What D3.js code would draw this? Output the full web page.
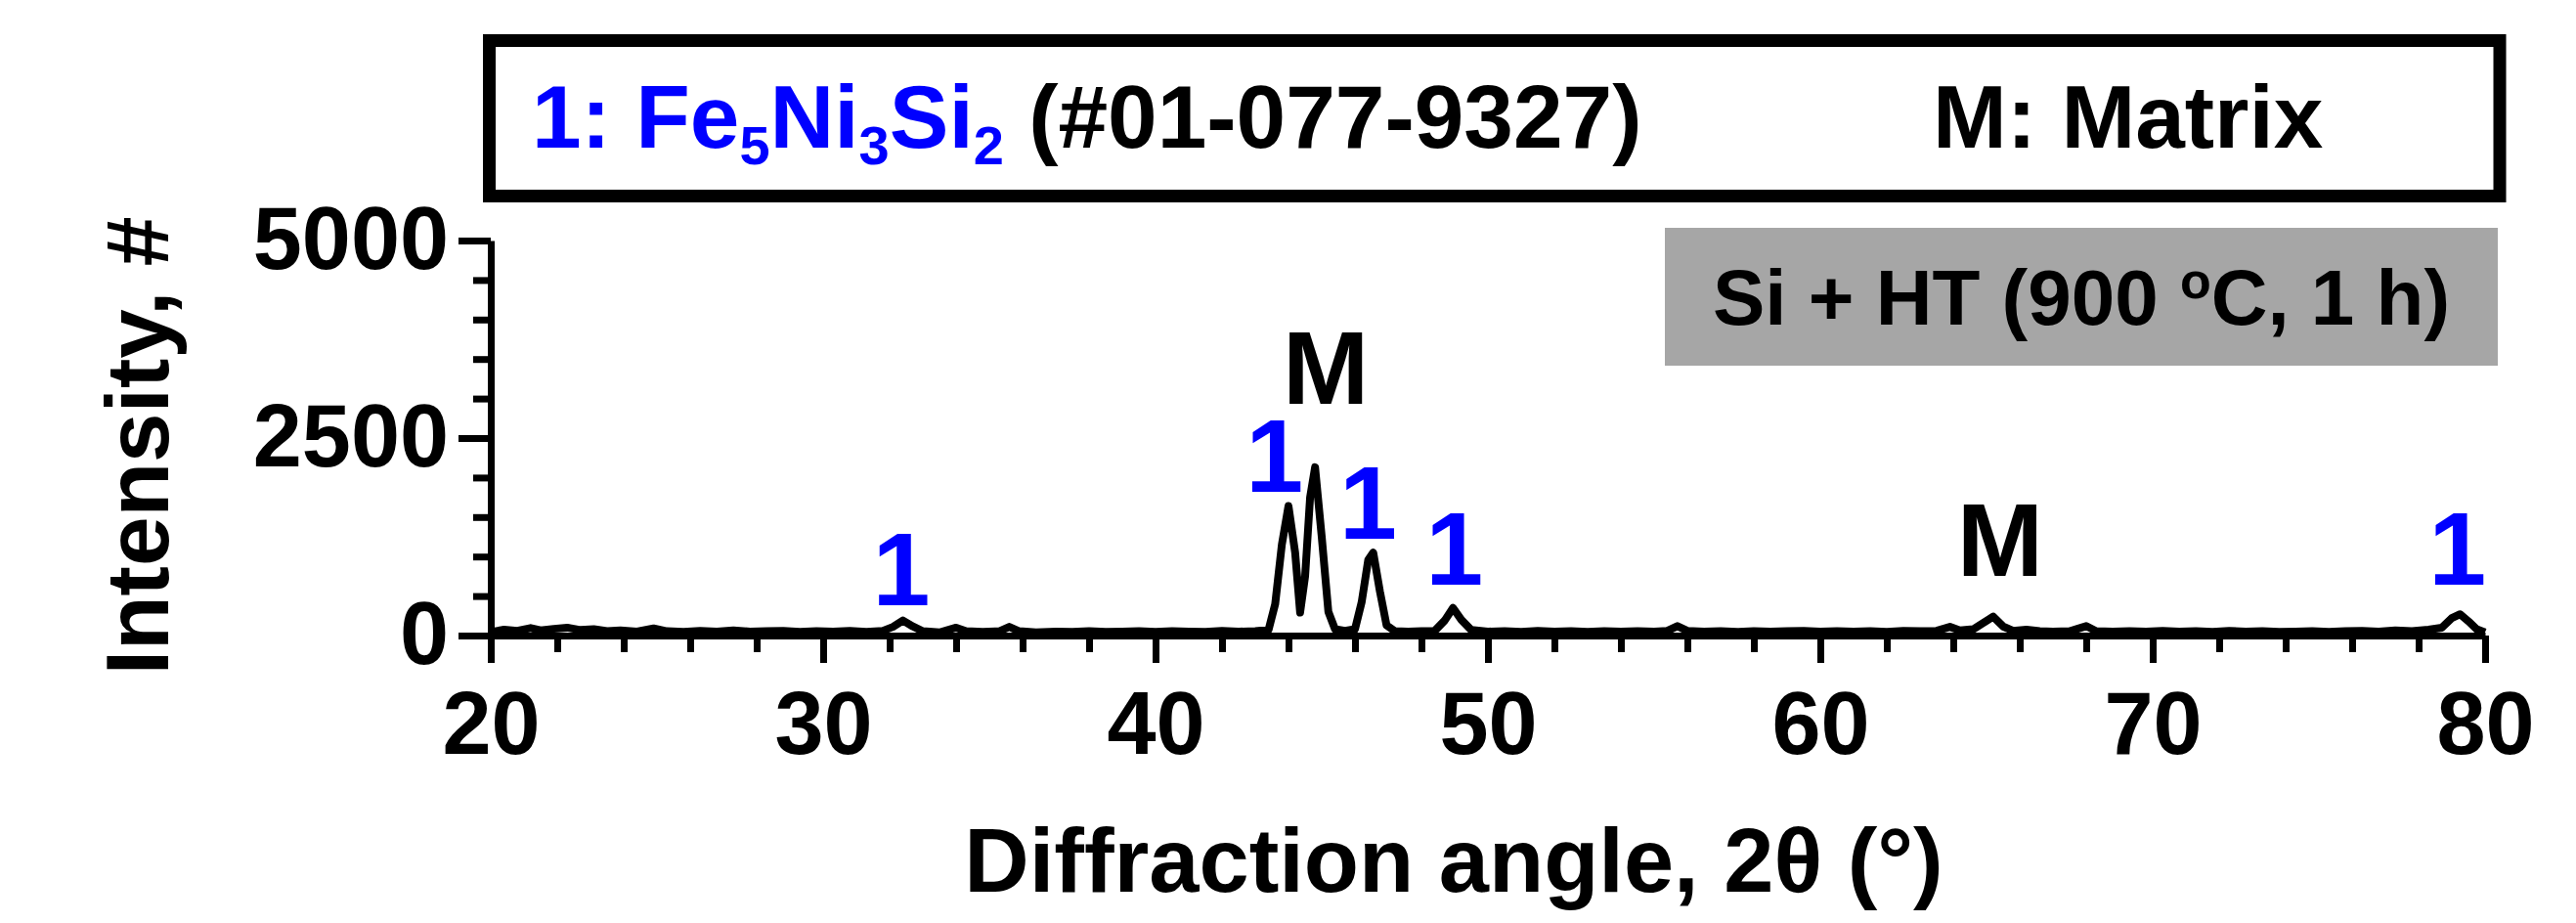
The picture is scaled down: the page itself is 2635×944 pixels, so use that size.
<!DOCTYPE html>
<html>
<head>
<meta charset="utf-8">
<title>XRD pattern - Si + HT (900 °C, 1 h)</title>
<script src="https://cdn.jsdelivr.net/npm/d3@7"></script>
<style>
  body { margin: 0; background: #ffffff; }
  #chart-container { width: 2635px; height: 944px; }
  text { font-family: "Liberation Sans", Arial, Helvetica, sans-serif; font-weight: bold; white-space: pre; }
</style>
</head>
<body>
<div id="chart-container"></div>
<script>
// Diffraction pattern: 2theta (deg) and counts
const angles = [
    20.0, 20.4, 20.8, 21.2, 21.5, 21.9, 22.3, 22.7, 23.1, 23.5, 23.9, 24.4, 24.9, 25.3, 25.8,
    26.3, 26.8, 27.3, 27.8, 28.3, 28.8, 29.3, 29.8, 30.3, 30.8, 31.3, 31.8, 32.1, 32.4, 32.7,
    33.0, 33.5, 34.0, 34.3, 34.8, 35.3, 35.6, 35.9, 36.4, 37.0, 37.5, 38.0, 38.5, 39.0, 39.5,
    40.0, 40.5, 41.0, 41.5, 42.0, 42.5, 43.0, 43.4, 43.6, 43.8, 44.0, 44.2, 44.35, 44.5, 44.65,
    44.8, 45.0, 45.2, 45.4, 45.7, 46.0, 46.2, 46.4, 46.55, 46.75, 46.95, 47.2, 47.6, 48.0, 48.4,
    48.7, 48.95, 49.2, 49.5, 50.0, 50.5, 51.0, 51.5, 52.0, 52.5, 53.0, 53.5, 54.0, 54.5, 55.0,
    55.4, 55.7, 56.0, 56.5, 57.0, 57.5, 58.0, 58.5, 59.0, 59.5, 60.0, 60.5, 61.0, 61.5, 62.0,
    62.5, 63.0, 63.5, 63.9, 64.2, 64.6, 64.9, 65.2, 65.5, 65.8, 66.2, 66.6, 67.0, 67.5, 68.0,
    68.3, 68.8, 69.3, 69.8, 70.3, 70.8, 71.3, 71.8, 72.3, 72.8, 73.3, 73.8, 74.3, 74.8, 75.3,
    75.8, 76.3, 76.8, 77.3, 77.8, 78.3, 78.7, 79.0, 79.25, 79.5, 79.75, 80.0
];
const intensities = [
    45, 75, 60, 95, 65, 85, 100, 70, 80, 55, 65, 50, 90, 55, 45,
    60, 50, 65, 50, 55, 60, 45, 55, 50, 60, 45, 60, 110, 190, 115,
    55, 40, 100, 55, 45, 55, 110, 55, 40, 50, 45, 55, 45, 50, 55,
    45, 55, 50, 45, 60, 50, 55, 70, 400, 1150, 1640, 1050, 290, 750, 1750,
    2130, 1250, 300, 80, 60, 80, 420, 960, 1050, 560, 130, 55, 50, 55, 60,
    190, 350, 200, 70, 50, 55, 45, 60, 50, 55, 45, 55, 50, 55, 50,
    60, 120, 60, 50, 55, 45, 55, 50, 55, 60, 50, 55, 50, 55, 45,
    60, 55, 60, 110, 65, 80, 160, 240, 115, 60, 75, 55, 50, 55, 120,
    55, 50, 55, 50, 60, 50, 55, 45, 60, 50, 55, 45, 50, 55, 45,
    55, 60, 50, 65, 55, 75, 100, 220, 270, 180, 80, 40
];

// Phase marks above the peaks (label, angle, level in counts)
const peakLabels = ["1", "1", "M", "1", "1", "M", "1"];
const labelAngles = [32.35, 43.58, 45.12, 46.4, 48.99, 65.41, 79.17];
const labelLevels = [384, 1819, 2933, 1225, 644, 755, 644];

const xTickValues = [20, 30, 40, 50, 60, 70, 80];
const yTickValues = [0, 2500, 5000];
const xTitle = "Diffraction angle, 2\u03b8 (\u00b0)";
const yTitle = "Intensity, #";

const BLUE = "#0000ff";

document.addEventListener('DOMContentLoaded', function() {
    console.log("DOM fully loaded and parsed");

    const svg = setupSVG();
    const scales = defineScales();

    drawConditionBox(svg);
    drawPattern(svg, scales);
    drawAxes(svg, scales);
    drawPeakLabels(svg, scales);
    drawLegend(svg);
});

function setupSVG() {
    console.log("Setting up SVG");
    return d3.select('#chart-container').append('svg')
        .attr('width', 2635)
        .attr('height', 944)
        .style('display', 'block');
}

function defineScales() {
    const x = d3.scaleLinear().domain([20, 80]).range([502, 2542]);
    const y = d3.scaleLinear().domain([0, 5000]).range([650, 246]);
    return { x, y };
}

function drawAxes(svg, scales) {
    const { x, y } = scales;

    // minor ticks first, majors on top
    const xMinor = d3.range(20, 81, 2).filter(v => v % 10 !== 0);
    const yMinor = d3.range(0, 5001, 500).filter(v => v % 2500 !== 0);

    svg.append('g')
        .attr('transform', 'translate(0,650)')
        .call(d3.axisBottom(x).tickValues(xMinor).tickSize(17).tickFormat('').tickSizeOuter(0))
        .call(g => g.select('.domain').remove());

    svg.append('g')
        .attr('transform', 'translate(502,0)')
        .call(d3.axisLeft(y).tickValues(yMinor).tickSize(18).tickFormat('').tickSizeOuter(0))
        .call(g => g.select('.domain').remove());

    const xAxis = svg.append('g')
        .attr('class', 'x-axis')
        .attr('transform', 'translate(0,650)')
        .call(d3.axisBottom(x).tickValues(xTickValues).tickSize(28).tickPadding(29)
            .tickFormat(d3.format('d')).tickSizeOuter(0));

    const yAxis = svg.append('g')
        .attr('class', 'y-axis')
        .attr('transform', 'translate(502,0)')
        .call(d3.axisLeft(y).tickValues(yTickValues).tickSize(33).tickPadding(10)
            .tickFormat(d3.format('d')).tickSizeOuter(0));

    svg.selectAll('.tick line').attr('stroke', '#000').attr('stroke-width', 7);
    svg.selectAll('.domain').attr('stroke', '#000').attr('stroke-width', 7);

    xAxis.selectAll('text')
        .attr('fill', '#000')
        .style('font-size', '90px');
    yAxis.selectAll('text')
        .attr('fill', '#000')
        .style('font-size', '90px');

    // axis titles
    svg.append('text')
        .attr('x', 1487)
        .attr('y', 912)
        .attr('text-anchor', 'middle')
        .style('font-size', '92px')
        .text(xTitle);

    svg.append('text')
        .attr('transform', 'translate(172,456) rotate(-90)')
        .attr('text-anchor', 'middle')
        .style('font-size', '91px')
        .text(yTitle);
}

function drawPattern(svg, scales) {
    const { x, y } = scales;
    console.log(`Drawing pattern with ${angles.length} points`);

    const line = d3.line()
        .x((d, i) => x(angles[i]))
        .y(d => y(d));

    svg.append('path')
        .datum(intensities)
        .attr('d', line)
        .attr('fill', 'none')
        .attr('stroke', '#000')
        .attr('stroke-width', 8)
        .attr('stroke-linejoin', 'round');
}

function drawPeakLabels(svg, scales) {
    const { x, y } = scales;
    svg.selectAll('.peak-label')
        .data(peakLabels)
        .enter().append('text')
        .attr('class', 'peak-label')
        .attr('x', (d, i) => x(labelAngles[i]))
        .attr('y', (d, i) => y(labelLevels[i]))
        .attr('text-anchor', 'middle')
        .attr('fill', d => d === 'M' ? '#000' : BLUE)
        .style('font-size', '106px')
        .text(d => d);
}

function drawLegend(svg) {
    const g = svg.append('g').attr('class', 'legend');
    g.append('rect')
        .attr('x', 500.5)
        .attr('y', 41.5)
        .attr('width', 2056.5)
        .attr('height', 159)
        .attr('fill', '#fff')
        .attr('stroke', '#000')
        .attr('stroke-width', 13);

    const t = g.append('text')
        .attr('x', 544)
        .attr('y', 151)
        .style('font-size', '91px');
    t.append('tspan').attr('fill', BLUE).text('1: Fe');
    t.append('tspan').attr('fill', BLUE).attr('dy', 17).style('font-size', '56px').text('5');
    t.append('tspan').attr('fill', BLUE).attr('dy', -17).text('Ni');
    t.append('tspan').attr('fill', BLUE).attr('dy', 17).style('font-size', '56px').text('3');
    t.append('tspan').attr('fill', BLUE).attr('dy', -17).text('Si');
    t.append('tspan').attr('fill', BLUE).attr('dy', 17).style('font-size', '56px').text('2');
    t.append('tspan').attr('fill', '#000').attr('dy', -17).text(' (#01-077-9327)');

    g.append('text')
        .attr('x', 1977)
        .attr('y', 151)
        .style('font-size', '91px')
        .attr('fill', '#000')
        .text('M: Matrix');
}

function drawConditionBox(svg) {
    const g = svg.append('g').attr('class', 'condition');
    g.append('rect')
        .attr('x', 1703)
        .attr('y', 233)
        .attr('width', 852)
        .attr('height', 141)
        .attr('fill', '#a6a6a6');

    const t = g.append('text')
        .attr('x', 2129)
        .attr('y', 332)
        .attr('text-anchor', 'middle')
        .attr('fill', '#000')
        .style('font-size', '80px');
    t.append('tspan').text('Si + HT (900 ');
    t.append('tspan').attr('dy', -27).style('font-size', '52px').text('o');
    t.append('tspan').attr('dy', 27).text('C, 1 h)');
}
</script>
</body>
</html>
